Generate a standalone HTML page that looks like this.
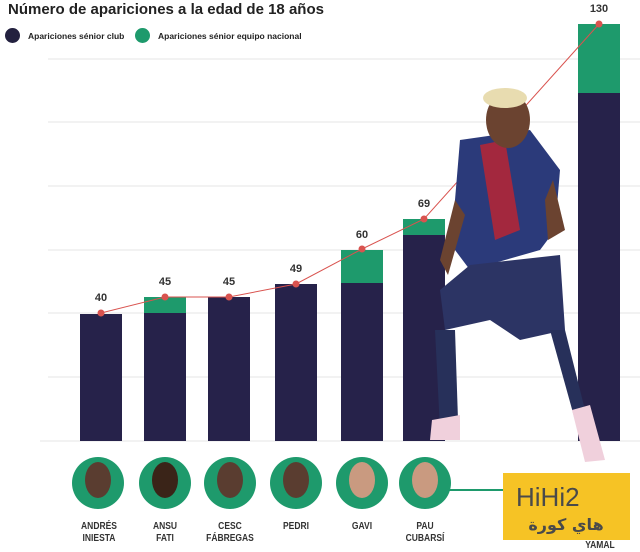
<!DOCTYPE html><html><head><style>
body{margin:0;width:640px;height:552px;background:#fff;overflow:hidden;font-family:"Liberation Sans",sans-serif;position:relative}
.t{position:absolute;left:8px;top:1px;font-size:15px;font-weight:bold;color:#222}
.lg{position:absolute;top:28px;font-size:8.5px;font-weight:bold;color:#222;display:flex;align-items:center}
.lg i{display:inline-block;width:15px;height:15px;border-radius:50%;margin-right:8px}
.n{position:absolute;font-size:10px;font-weight:bold;color:#333;text-align:center;width:60px;line-height:12px;transform:scaleX(.85)}
</style></head><body>
<div class="t">Número de apariciones a la edad de 18 años</div>
<div class="lg" style="left:5px"><i style="background:#23213f"></i>Apariciones sénior club</div>
<div class="lg" style="left:135px"><i style="background:#1e9a6c"></i>Apariciones sénior equipo nacional</div>
<svg width="640" height="552" style="position:absolute;left:0;top:0">
<g stroke="#e6e6e6" stroke-width="1">
<line x1="48" y1="59" x2="640" y2="59"/><line x1="48" y1="122" x2="640" y2="122"/><line x1="48" y1="186" x2="640" y2="186"/><line x1="48" y1="250" x2="640" y2="250"/><line x1="48" y1="313" x2="640" y2="313"/><line x1="48" y1="377" x2="640" y2="377"/><line x1="40" y1="441" x2="640" y2="441"/></g>
<g fill="#26224a">
<rect x="80" y="314" width="42" height="127"/><rect x="144" y="313" width="42" height="128"/><rect x="208" y="297" width="42" height="144"/><rect x="275" y="284" width="42" height="157"/><rect x="341" y="283" width="42" height="158"/><rect x="403" y="235" width="42" height="206"/><rect x="578" y="93" width="42" height="348"/></g>
<g fill="#1e9a6c"><rect x="144" y="297" width="42" height="16"/><rect x="341" y="250" width="42" height="33"/><rect x="403" y="219" width="42" height="16"/><rect x="578" y="24" width="42" height="69"/></g>
<polyline fill="none" stroke="#d9534f" stroke-width="1" points="101,313 165,297 229,297 296,284 362,249 424,219 599,24"/>
<g fill="#d9534f"><circle cx="101" cy="313" r="3.5"/><circle cx="165" cy="297" r="3.5"/><circle cx="229" cy="297" r="3.5"/><circle cx="296" cy="284" r="3.5"/><circle cx="362" cy="249" r="3.5"/><circle cx="424" cy="219" r="3.5"/><circle cx="599" cy="24" r="3.5"/></g>
<g font-size="11" font-weight="bold" fill="#333" text-anchor="middle">
<text x="101" y="301">40</text><text x="165" y="285">45</text><text x="229" y="285">45</text><text x="296" y="272">49</text><text x="362" y="238">60</text><text x="424" y="207">69</text><text x="599" y="12">130</text></g>
<!-- player -->
<g>
<path d="M460 140 L530 130 L560 170 L555 230 L540 250 L470 270 L455 250 L455 200Z" fill="#2b3a7a"/>
<path d="M480 145 L505 140 L520 230 L495 240Z" fill="#a3283e"/>
<path d="M470 265 L560 255 L565 330 L520 340 L490 320 L445 330 L440 290Z" fill="#2c3464"/>
<ellipse cx="508" cy="120" rx="22" ry="28" fill="#6b4330"/>
<ellipse cx="505" cy="98" rx="22" ry="10" fill="#e8dcb0"/>
<path d="M435 330 L455 330 L458 420 L440 430Z" fill="#27305a"/>
<path d="M550 330 L565 330 L585 410 L575 420Z" fill="#27305a"/>
<path d="M432 420 L460 415 L460 440 L430 440Z" fill="#f0d0dc"/>
<path d="M572 410 L590 405 L605 460 L585 462Z" fill="#f0d0dc"/>
<path d="M455 200 L440 260 L448 275 L465 215Z" fill="#6b4330"/>
<path d="M553 180 L565 230 L548 240 L545 200Z" fill="#6b4330"/>
</g>
<line x1="425" y1="490" x2="505" y2="490" stroke="#1e9a6c" stroke-width="2"/>
<g fill="#1e9a6c"><circle cx="98" cy="483" r="26"/><circle cx="165" cy="483" r="26"/><circle cx="230" cy="483" r="26"/><circle cx="296" cy="483" r="26"/><circle cx="362" cy="483" r="26"/><circle cx="425" cy="483" r="26"/></g>
<g fill="#5a3d30"><ellipse cx="98" cy="480" rx="13" ry="18"/><ellipse cx="165" cy="480" rx="13" ry="18" fill="#3a2418"/><ellipse cx="230" cy="480" rx="13" ry="18"/><ellipse cx="296" cy="480" rx="13" ry="18"/><ellipse cx="362" cy="480" rx="13" ry="18" fill="#c99a80"/><ellipse cx="425" cy="480" rx="13" ry="18" fill="#c99a80"/></g>
<rect x="503" y="473" width="127" height="67" fill="#f6c325"/>
<text x="516" y="506" font-size="26" fill="#4a4a4a">HiHi2</text>
<text x="566" y="530" font-size="16" font-weight="bold" fill="#4a4a4a" text-anchor="middle" font-family="DejaVu Sans,sans-serif">هاي كورة</text>
</svg>
<div class="n" style="left:69px;top:521px">ANDRÉS<br>INIESTA</div>
<div class="n" style="left:135px;top:521px">ANSU<br>FATI</div>
<div class="n" style="left:200px;top:521px">CESC<br>FÁBREGAS</div>
<div class="n" style="left:266px;top:521px">PEDRI</div>
<div class="n" style="left:332px;top:521px">GAVI</div>
<div class="n" style="left:395px;top:521px">PAU<br>CUBARSÍ</div>
<div class="n" style="left:570px;top:540px">YAMAL</div>
</body></html>
